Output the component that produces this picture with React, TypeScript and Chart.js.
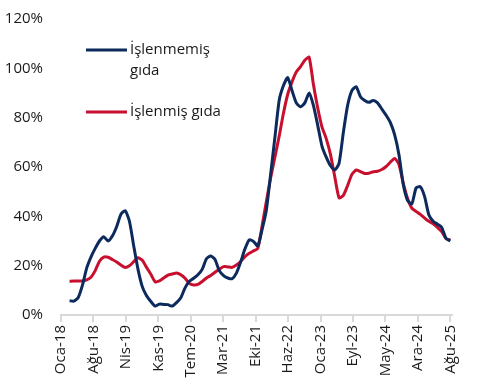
import React, { useEffect, useRef } from "react";
import { Chart, registerables } from "chart.js";

Chart.register(...registerables);

// Month index (0 = Oca-18) of each observation
const MONTHS: number[] = Array.from({ length: 90 }, (_, k) => k + 2);

const UNPROCESSED: number[] = [
  5.8, 5.6, 7, 12, 19, 23.5, 27, 30, 31.7, 30, 32, 35.8, 40.8, 42.3, 38, 28,
  18.5, 11.5, 7.8, 5.5, 3.6, 4.4, 4.3, 4.2, 3.6, 5.0, 7, 11, 13.7, 14.9, 16.3,
  18.5, 22.8, 23.9, 22.5, 18, 16, 15, 14.7, 17, 21.5, 26.8, 30.5, 29.8, 28,
  34.6, 42.5, 57, 72, 87, 93, 96.3, 91, 86, 84.4, 86, 90, 85, 77, 68.5, 64,
  60.5, 58.8, 61.5, 74, 85, 91, 92.5, 88.5, 87, 86.2, 87, 86, 83.5, 81, 78,
  73, 65, 53, 46.5, 45, 51.5, 52, 48, 40.5, 38, 36.8, 35.5, 31, 30,
];

const PROCESSED: number[] = [
  13.7, 13.8, 13.8, 13.8, 14.2, 15.3, 18, 21.8, 23.5, 23.4, 22.5, 21.5, 20.3,
  19.3, 20, 21.6, 23.2, 22.2, 19.3, 16.5, 13.5, 13.8, 15, 16.2, 16.6, 17,
  16.3, 14.9, 12.8, 12.2, 12.4, 13.6, 15, 16, 17.3, 18.5, 19.6, 19.5, 19.3,
  20.3, 21.7, 23.6, 25, 26, 27, 36, 46, 55.5, 64, 72.5, 81.8, 89.5, 94.5,
  98.5, 100.7, 103.3, 104.5, 93.5, 84, 76.3, 71.5, 65, 56, 47.5, 48.5, 52.5,
  57, 58.8, 58.1, 57.4, 57.5, 58.1, 58.3, 59, 60.2, 62, 63.5, 61, 53.5, 47.3,
  43.3, 42, 40.8, 39.3, 38, 37, 35.5, 33.8, 31, 30.4,
];

const TICK_LABELS: string[] = [
  "Oca-18", "Ağu-18", "Nis-19", "Kas-19", "Tem-20", "Mar-21", "Eki-21",
  "Haz-22", "Oca-23", "Eyl-23", "May-24", "Ara-24", "Ağu-25",
];

const SERIES_NAMES: string[] = ["İşlenmemiş gıda", "İşlenmiş gıda"];
const LAST_MONTH = 91;

const NAVY = "#0c2a5c";
const RED = "#c8102e";
const FONT = "'Open Sans', sans-serif";

const legendPlugin = {
  id: "insideLegend",
  afterDraw(chart: any) {
    const ctx = chart.ctx;
    const items = [
      { color: NAVY, lines: ["İşlenmemiş", "gıda"], y: 50 },
      { color: RED, lines: [SERIES_NAMES[1]], y: 112 },
    ];
    ctx.save();
    ctx.font = `15px ${FONT}`;
    ctx.textBaseline = "middle";
    ctx.textAlign = "left";
    for (const it of items) {
      ctx.strokeStyle = it.color;
      ctx.lineWidth = 3;
      ctx.beginPath();
      ctx.moveTo(86, it.y);
      ctx.lineTo(127, it.y);
      ctx.stroke();
      ctx.fillStyle = "#1a1a1a";
      it.lines.forEach((t, k) => ctx.fillText(t, 130, it.y + k * 21));
    }
    ctx.restore();
  },
};

export default function App() {
  const ref = useRef<HTMLCanvasElement>(null);
  useEffect(() => {
    if (!ref.current) return;
    const chart = new Chart(ref.current, {
      type: "line",
      data: {
        datasets: [
          {
            label: SERIES_NAMES[0],
            data: MONTHS.map((m, k) => ({ x: m, y: UNPROCESSED[k] })),
            borderColor: NAVY,
            borderWidth: 3,
            pointRadius: 0,
            tension: 0.2,
            borderJoinStyle: "round",
          },
          {
            label: SERIES_NAMES[1],
            data: MONTHS.map((m, k) => ({ x: m, y: PROCESSED[k] })),
            borderColor: RED,
            borderWidth: 3,
            pointRadius: 0,
            tension: 0.2,
            borderJoinStyle: "round",
          },
        ],
      },
      options: {
        animation: false,
        responsive: false,
        maintainAspectRatio: false,
        layout: { padding: { left: 0, right: 35, top: 19, bottom: 0 } },
        plugins: { legend: { display: false }, tooltip: { enabled: false } },
        scales: {
          x: {
            type: "linear",
            min: 0,
            max: 91.4,
            afterBuildTicks: (scale: any) => {
              scale.ticks = TICK_LABELS.map((_, i) => ({
                value: (i * LAST_MONTH) / (TICK_LABELS.length - 1),
              }));
            },
            afterFit: (scale: any) => {
              scale.height = 73;
            },
            ticks: {
              autoSkip: false,
              maxRotation: 90,
              minRotation: 90,
              padding: 3,
              color: "#1a1a1a",
              font: { family: FONT, size: 15 },
              callback: (_v: any, i: number) => TICK_LABELS[i],
            },
            grid: {
              drawOnChartArea: false,
              drawTicks: true,
              tickLength: 7,
              color: "#d9d9d9",
              lineWidth: 2,
            },
            border: { display: true, color: "#d9d9d9", width: 2 },
          },
          y: {
            min: 0,
            max: 120,
            afterBuildTicks: (scale: any) => {
              scale.ticks = [0, 20, 40, 60, 80, 100, 120].map((v) => ({ value: v }));
            },
            afterFit: (scale: any) => {
              scale.width = 61;
              scale.paddingTop = 0;
            },
            ticks: {
              padding: 18,
              color: "#1a1a1a",
              font: { family: FONT, size: 15 },
              callback: (v: any) => `${v}%`,
            },
            grid: { display: false, drawTicks: false },
            border: { display: false },
          },
        },
      },
      plugins: [legendPlugin],
    });
    return () => chart.destroy();
  }, []);
  return (
    <div style={{ position: "fixed", left: 0, top: 0, width: 487, height: 388, background: "#fff" }}>
      <canvas ref={ref} width={487} height={388} style={{ width: 487, height: 388 }} />
    </div>
  );
}
